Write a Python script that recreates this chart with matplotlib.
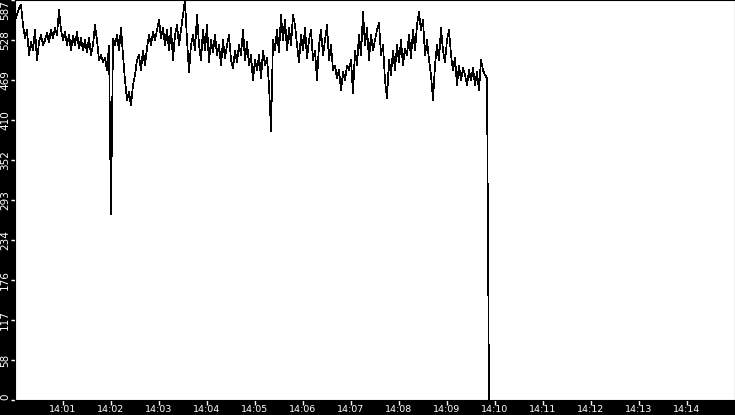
import numpy as np
import datetime as dt
import matplotlib
matplotlib.use("Agg")
import matplotlib.pyplot as plt
import matplotlib.dates as mdates

# samples every 2.5 s starting at 14:00:00
start = dt.datetime(2024, 1, 1, 14, 0, 0)
step_s = 2.5
values = [
    558, 565, 575, 580, 550, 531, 543, 506, 525, 513, 543, 499, 525, 536, 521, 528,
    539, 525, 543, 531, 546, 536, 572, 543, 528, 540, 521, 536, 513, 534, 521, 540,
    516, 531, 513, 528, 510, 531, 506, 521, 550, 528, 499, 506, 496, 502, 484, 520,
    272, 530, 521, 536, 513, 546, 506, 469, 440, 452, 432, 462, 477, 499, 506, 484,
    513, 491, 516, 536, 521, 540, 528, 543, 558, 531, 546, 521, 543, 513, 546, 499,
    536, 550, 521, 543, 565, 587, 528, 481, 521, 536, 513, 566, 521, 499, 543, 513,
    550, 496, 528, 510, 536, 506, 521, 491, 528, 502, 521, 536, 499, 487, 513, 496,
    521, 506, 543, 499, 525, 491, 506, 469, 499, 484, 506, 472, 513, 491, 502, 462,
    395, 528, 513, 543, 510, 565, 528, 558, 513, 546, 521, 565, 550, 521, 496, 536,
    513, 546, 502, 528, 543, 499, 513, 469, 521, 543, 506, 528, 550, 499, 521, 484,
    491, 472, 484, 455, 481, 469, 491, 484, 499, 450, 513, 491, 536, 506, 569, 521,
    546, 499, 536, 513, 528, 543, 553, 506, 521, 469, 443, 499, 477, 513, 484, 521,
    496, 528, 491, 516, 506, 536, 502, 543, 513, 550, 569, 543, 558, 506, 528, 499,
    477, 440, 491, 521, 499, 546, 513, 496, 528, 543, 506, 484, 502, 462, 491, 469,
    487, 477, 462, 484, 469, 487, 462, 481, 455, 499, 484, 477, 472, 0,
]
times = [start + dt.timedelta(seconds=i * step_s) for i in range(len(values))]

y_max = 587
y_ticks = [y_max * k / 10 for k in range(11)]
y_labels = [str(int(v)) for v in y_ticks]
x_ticks = [start + dt.timedelta(minutes=m) for m in range(1, 15)]

fig = plt.figure(figsize=(7.35, 4.15), dpi=100, facecolor="black")
ax = fig.add_axes([15 / 735, 15 / 415, 720 / 735, 400 / 415])
ax.set_facecolor("white")

ax.plot(times, values, color="black", lw=0.5, antialiased=False)

ax.set_xlim(start, start + dt.timedelta(minutes=15))
ax.set_ylim(0, y_max)
ax.set_xticks(x_ticks)
ax.xaxis.set_major_formatter(mdates.DateFormatter("%H:%M"))
ax.set_yticks(y_ticks)
ax.set_yticklabels(y_labels, rotation=90, va="center")

tl = ax.get_yticklabels()
tl[0].set_va("bottom")
tl[-1].set_va("top")

ax.tick_params(axis="both", colors="white", width=1)
ax.tick_params(axis="x", labelsize=6.8, length=3.5, pad=0)
ax.tick_params(axis="y", labelsize=7.5, length=3, pad=0.5)
for s in ax.spines.values():
    s.set_color("black")

fig.savefig("out.png", dpi=100, facecolor="black")
